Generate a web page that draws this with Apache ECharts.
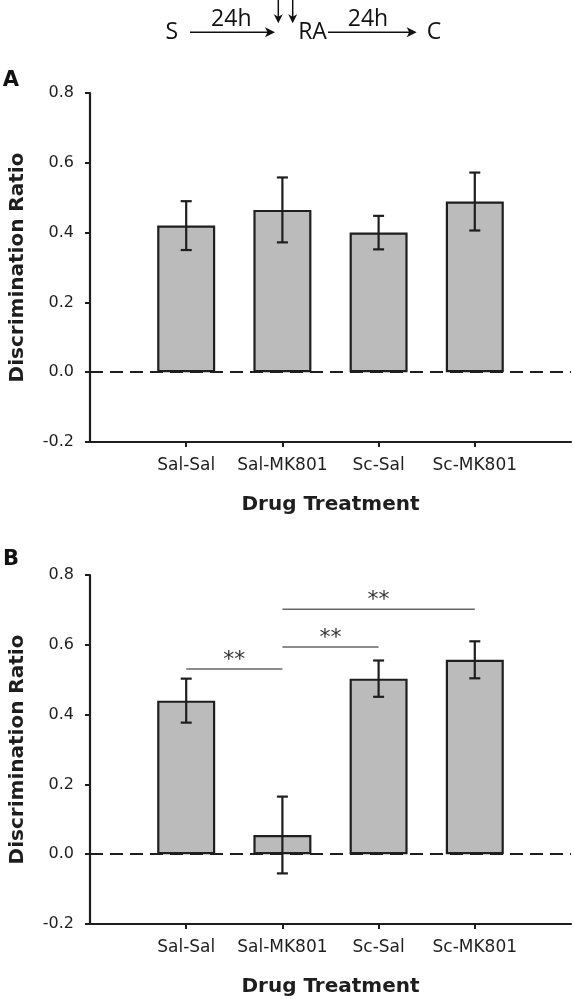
<!DOCTYPE html>
<html>
<head>
<meta charset="utf-8">
<script src="https://cdn.jsdelivr.net/npm/echarts@6/dist/echarts.min.js"></script>
<style>
html,body{margin:0;padding:0;background:#fff;}
#chart{width:574px;height:999px;}
</style>
</head>
<body>
<div id="chart"></div>
<script>
// ---- data ----
const categories = ['Sal-Sal', 'Sal-MK801', 'Sc-Sal', 'Sc-MK801'];
const meansA = [0.42, 0.465, 0.40, 0.489];
const semA   = [0.07, 0.093, 0.048, 0.083];
const meansB = [0.44, 0.055, 0.503, 0.557];
const semB   = [0.063, 0.11, 0.052, 0.053];
// significance brackets in panel B: [from category index, to category index, height]
const sigB = [[0, 1, 0.531], [1, 2, 0.594], [1, 3, 0.702]];
const sigLabel = '**';
const yMin = -0.2, yMax = 0.8, yStep = 0.2;
const panelLabels = ['A', 'B'];
const xTitle = 'Drug Treatment';
const yTitle = 'Discrimination Ratio';

// ---- build ----
const xData = [''].concat(categories, ['']);
const pad = arr => ['-'].concat(arr, ['-']);
const errData = (m, s) => m.map((v, i) => [i + 1, v - s[i], v + s[i]]);

const TXT = '#1e1e1e';
const chart = echarts.init(document.getElementById('chart'));

function xAxisDef(gi) {
  return {
    gridIndex: gi, type: 'category', data: xData, boundaryGap: false,
    axisLine: { onZero: false, lineStyle: { color: TXT, width: 2.2 } },
    axisTick: { show: true, length: 5, interval: (idx, val) => val !== '', lineStyle: { color: TXT, width: 2 } },
    axisLabel: { interval: 0, margin: 15, fontFamily: 'DejaVu Sans', fontSize: 17, color: TXT },
    splitLine: { show: false },
    name: xTitle, nameLocation: 'middle', nameGap: 53,
    nameTextStyle: { fontFamily: 'DejaVu Sans', fontWeight: 'bold', fontSize: 20, color: TXT }
  };
}
function yAxisDef(gi) {
  return {
    gridIndex: gi, type: 'value', min: yMin, max: yMax, interval: yStep,
    axisLine: { show: true, onZero: false, lineStyle: { color: TXT, width: 2.2 } },
    axisTick: { show: true, length: 5, lineStyle: { color: TXT, width: 2 } },
    axisLabel: { margin: 16, fontFamily: 'DejaVu Sans', fontSize: 16, color: TXT, formatter: v => v.toFixed(1) },
    splitLine: { show: false },
    name: yTitle, nameLocation: 'middle', nameGap: 62, nameRotate: 90,
    nameTextStyle: { fontFamily: 'DejaVu Sans', fontWeight: 'bold', fontSize: 20, color: TXT }
  };
}
function barSeries(gi, means) {
  return {
    type: 'bar', xAxisIndex: gi, yAxisIndex: gi, data: pad(means), barWidth: 58,
    itemStyle: { color: '#bbbbbb', borderColor: TXT, borderWidth: 2.2 },
    silent: true,
    markLine: {
      silent: true, symbol: ['none', 'none'], label: { show: false },
      lineStyle: { type: [13, 7], color: TXT, width: 2.2 },
      data: [{ yAxis: 0 }]
    }
  };
}
function errSeries(gi, data) {
  return {
    type: 'custom', xAxisIndex: gi, yAxisIndex: gi, data: data, z: 5,
    renderItem: function (params, api) {
      const x = api.value(0);
      const lo = api.coord([x, api.value(1)]);
      const hi = api.coord([x, api.value(2)]);
      const w = 5.5;
      const st = { stroke: TXT, lineWidth: 2.2 };
      return { type: 'group', children: [
        { type: 'line', shape: { x1: lo[0], y1: lo[1], x2: hi[0], y2: hi[1] }, style: st },
        { type: 'line', shape: { x1: lo[0] - w, y1: lo[1], x2: lo[0] + w, y2: lo[1] }, style: st },
        { type: 'line', shape: { x1: hi[0] - w, y1: hi[1], x2: hi[0] + w, y2: hi[1] }, style: st }
      ]};
    }
  };
}
function sigSeries(gi, data) {
  return {
    type: 'custom', xAxisIndex: gi, yAxisIndex: gi, z: 6,
    data: data.map(d => [d[0] + 1, d[1] + 1, d[2]]),
    renderItem: function (params, api) {
      const a = api.coord([api.value(0), api.value(2)]);
      const b = api.coord([api.value(1), api.value(2)]);
      return { type: 'group', children: [
        { type: 'line', shape: { x1: a[0], y1: a[1], x2: b[0], y2: b[1] }, style: { stroke: '#666', lineWidth: 1.5 } },
        { type: 'text', x: (a[0] + b[0]) / 2, y: a[1] - 9,
          style: { text: sigLabel, fill: '#333', font: '22px "DejaVu Sans"', textAlign: 'center', textVerticalAlign: 'middle' } }
      ]};
    }
  };
}

// diagram graphics (annotation above the chart)
const DF = '23px "Open Sans"';
function txt(t, x, y, font) {
  return { type: 'text', x: x, y: y, style: { text: t, font: font, fill: '#111', textAlign: 'center', textVerticalAlign: 'middle' } };
}
function hArrow(x1, x2, y) {
  return [
    { type: 'line', shape: { x1: x1, y1: y, x2: x2 - 6, y2: y }, style: { stroke: '#111', lineWidth: 1.5 } },
    { type: 'polygon', shape: { points: [[x2, y], [x2 - 10, y - 5], [x2 - 7.5, y], [x2 - 10, y + 5]] }, style: { fill: '#111' } }
  ];
}
function vArrow(x, y1, y2) {
  return [
    { type: 'line', shape: { x1: x, y1: y1, x2: x, y2: y2 - 5 }, style: { stroke: '#111', lineWidth: 1.5 } },
    { type: 'polygon', shape: { points: [[x, y2], [x - 4.5, y2 - 9], [x, y2 - 6.5], [x + 4.5, y2 - 9]] }, style: { fill: '#111' } }
  ];
}
const graphics = [
  txt('S', 171.7, 32, DF),
  txt('24h', 231.3, 19, DF),
  txt('RA', 312.5, 32.5, DF),
  txt('24h', 368, 19, DF),
  txt('C', 434, 32.5, DF),
  txt(panelLabels[0], 11, 81, 'bold 21px "DejaVu Sans"'),
  txt(panelLabels[1], 11, 560, 'bold 21px "DejaVu Sans"')
].concat(hArrow(190, 275, 32.3), hArrow(328, 416.7, 32.3), vArrow(278.3, 0, 23.3), vArrow(292.7, 0, 23.3));

chart.setOption({
  animation: false,
  backgroundColor: '#fff',
  graphic: graphics,
  grid: [
    { left: 89, top: 93, width: 485, height: 349 },
    { left: 89, top: 575, width: 485, height: 349 }
  ],
  xAxis: [xAxisDef(0), xAxisDef(1)],
  yAxis: [yAxisDef(0), yAxisDef(1)],
  series: [
    barSeries(0, meansA), errSeries(0, errData(meansA, semA)),
    barSeries(1, meansB), errSeries(1, errData(meansB, semB)),
    sigSeries(1, sigB)
  ]
});
</script>
</body>
</html>
